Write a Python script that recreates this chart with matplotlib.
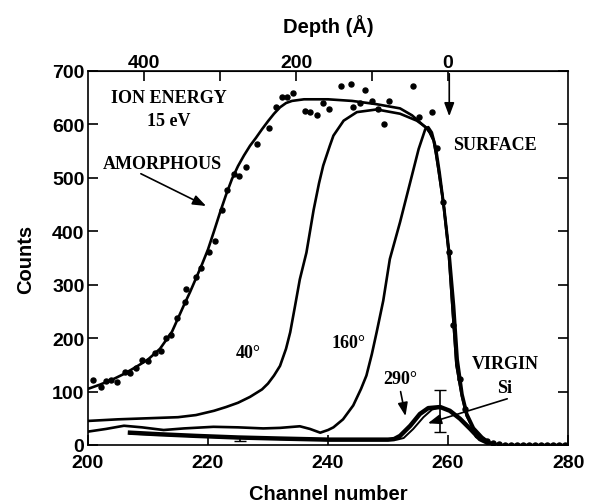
import matplotlib
matplotlib.use("Agg")
import matplotlib.pyplot as plt

# measured data points (amorphous sample, 15 eV)
amor_ch = [200.9, 202.1, 203, 203.8, 204.9, 206.2, 207, 208, 209, 210, 211.2, 212.1, 213, 213.9,
           214.9, 216.2, 216.4, 218, 218.9, 220.1, 221.2, 222.4, 223.2, 224.3, 225.2, 226.3, 228.1,
           230.2, 231.3, 232.3, 233.1, 234.2, 236.2, 237, 238.2, 239.2, 240.2, 242.1, 243.8, 244.1,
           245.3, 246.2, 247.3, 248.4, 249.3, 250.2, 254.2, 255.2, 257.4, 258.1, 259.2, 260.1, 260.9,
           262, 262.8, 264.8, 266.5, 267.5, 268.5, 269.5, 270.5, 271.5, 272.5, 273.5, 274.5, 275.5,
           276.5, 277.5, 278.5, 279.5]
amor_counts = [122, 108, 120, 122, 118, 137, 135, 145, 159, 158, 173, 176, 201, 205,
               237, 267, 292, 314, 332, 361, 382, 440, 477, 507, 504, 521, 563,
               593, 632, 651, 651, 658, 626, 624, 618, 641, 628, 671, 676, 633,
               640, 665, 643, 629, 600, 643, 671, 613, 624, 555, 455, 362, 225,
               124, 67, 19, 8, 3, 1, 0, 0, 0, 0, 0, 0, 0,
               0, 0, 0, 0]

# fitted curve through the amorphous data
fit_ch = [200, 202, 204, 206, 208, 210, 212, 214, 216, 217, 218, 219, 220, 221, 222, 223, 224,
          225, 226, 227, 228, 229, 230, 231, 232, 233, 234, 236, 240, 244, 246, 248, 250, 252,
          254, 255, 256, 256.5, 257, 257.6, 258, 258.4, 259.2, 260.1, 260.6, 261.4, 262.3, 263.1,
          264.2, 265.6, 267, 268, 280]
fit_counts = [105, 113, 122, 133, 146, 160, 180, 212, 262, 286, 312, 338, 366, 400, 435, 468, 498,
              522, 542, 560, 575, 591, 606, 620, 632, 640, 644, 647, 647, 644, 641, 638, 634, 630,
              617, 607, 597, 592, 584, 570, 545, 516, 454, 362, 280, 150, 92, 55,
              30, 14, 3, 0, 0]

# 40 degree anneal
c40_ch = [200, 205, 210, 215, 218, 221, 223, 225, 227, 229, 230, 231, 232, 233, 233.7, 234.5, 235.3,
          236.4, 237.6, 238.5, 239.2, 240.3, 240.9, 242.6, 244.8, 248.1, 252, 254.8, 256.4, 257,
          257.6, 258, 258.4, 259.2, 260.1, 260.6, 261.4, 262.3, 263.1, 264.2, 265.6, 267, 268]
c40_counts = [45, 48, 50, 52, 56, 64, 71, 79, 90, 104, 115, 130, 148, 180, 211, 260, 310,
              360, 440, 490, 523, 560, 579, 607, 623, 628, 620, 607, 594, 584,
              570, 545, 516, 454, 362, 280, 150, 92, 55, 30, 14, 3, 0]

# 160 degree anneal
c160_ch = [200, 203, 206, 209, 212.6, 216, 220.9, 225, 229.2, 232, 235.3, 237, 238.7, 240, 240.9,
           242.5, 244.2, 245.5, 246.4, 247.3, 248.1, 249.2, 250.3, 252, 253.7, 255.1, 256.2, 256.7,
           257.3, 258, 258.6, 259.4, 260.3, 261, 261.6, 262.4, 263.2, 264.3, 265.7, 267, 268]
c160_counts = [25, 30, 36, 33, 28, 31, 34, 33, 31, 32, 35, 30, 23, 28, 33,
               48, 74, 105, 130, 170, 211, 270, 348, 417, 492, 554, 591, 595,
               585, 555, 510, 440, 350, 260, 160, 95, 58, 32, 15, 4, 0]

# 290 degree anneal
c290_ch = [207, 212, 218, 225, 232, 240, 246, 250, 251.5, 252.6, 254.2, 255.9, 257.3, 258.7, 260.3,
           262, 263.7, 265.3, 267, 268]
c290_counts = [21, 19, 16, 13, 11, 9, 9, 9, 10, 13, 30, 52, 66, 71, 65, 49, 30, 11, 2, 0]

# virgin Si
virg_ch = [207, 212, 218, 225, 232, 240, 246, 250, 251, 252, 253.7, 255.3, 256.7, 258.7, 260.3,
           262, 263.7, 265.3, 267, 268]
virg_counts = [23, 20, 17, 14, 12, 10, 10, 10, 11, 17, 36, 58, 69, 71, 64, 49, 30, 11, 2, 0]

# error bars
err_ch = [258.7, 225.3]
err_val = [63, 11]
err_size = [39, 3]

depth_ticks = [400, 300, 200, 100, 0]
depth_labels = ["400", "", "200", "", "0"]

sans = "Liberation Sans"
serif = "Liberation Serif"

fig = plt.figure(figsize=(5.92, 5.02), dpi=100)
ax = fig.add_axes([0.1486, 0.1116, 0.811, 0.745])

lw = 1.9
ax.plot(fit_ch, fit_counts, color="black", lw=lw)
ax.plot(amor_ch, amor_counts, "o", color="black", ms=3.6)
ax.plot(c40_ch, c40_counts, color="black", lw=lw)
ax.plot(c160_ch, c160_counts, color="black", lw=lw)
ax.plot(virg_ch, virg_counts, color="black", lw=3.2)
ax.plot(c290_ch, c290_counts, color="black", lw=1.4)
ax.errorbar(err_ch, err_val, yerr=err_size, fmt="none", ecolor="black", elinewidth=1.2, capsize=4)

ax.set_xlim(200, 280)
ax.set_ylim(0, 700)
ax.set_xticks([200, 220, 240, 260, 280])
ax.set_yticks([0, 100, 200, 300, 400, 500, 600, 700])
ax.tick_params(direction="in", length=7, width=1.2, top=False, right=True, labelsize=14)
ax.tick_params(axis="x", pad=6.5)
ax.tick_params(axis="y", pad=2.5)
for lab in ax.get_xticklabels() + ax.get_yticklabels():
    lab.set_fontfamily(sans)
    lab.set_fontweight("bold")
for s in ax.spines.values():
    s.set_linewidth(1.2)

ax.set_xlabel("Channel number", fontsize=14.5, fontweight="bold", family=sans, labelpad=9)
ax.set_ylabel("Counts", fontsize=14.5, fontweight="bold", family=sans, labelpad=12)

top = ax.secondary_xaxis("top", functions=(lambda c: (260 - c) * 7.9, lambda d: 260 - d / 7.9))
top.set_xticks(depth_ticks)
top.set_xticklabels(depth_labels)
top.tick_params(direction="in", length=7, width=1.2, labelsize=14, pad=0)
for lab in top.get_xticklabels():
    lab.set_fontfamily(sans)
    lab.set_fontweight("bold")
top.set_xlabel("Depth (Å)", fontsize=14.5, fontweight="bold", family=sans, labelpad=16)

tkw = dict(fontsize=13, fontweight="bold", family=serif, ha="center", va="center")
ax.text(213.4, 651, "ION ENERGY", **tkw)
ax.text(213.4, 608, "15 eV", **tkw)
ax.text(212.4, 527, "AMORPHOUS", **tkw)
ax.text(267.8, 562, "SURFACE", **tkw)
ax.text(226.7, 173, "40°", **tkw)
ax.text(243.4, 191, "160°", **tkw)
ax.text(252, 125, "290°", **tkw)
ax.text(269.5, 152, "VIRGIN", **tkw)
ax.text(269.5, 108, "Si", **tkw)

akw = dict(arrowstyle="-|>,head_length=0.8,head_width=0.3", color="black", lw=1.2)
ax.annotate("", xy=(220.1, 445), xytext=(208.4, 510), arrowprops=akw)
ax.annotate("", xy=(260.2, 610), xytext=(260.2, 700), arrowprops=akw)
ax.annotate("", xy=(253, 49), xytext=(252, 105), arrowprops=akw)
ax.annotate("", xy=(256.2, 39), xytext=(270.3, 88), arrowprops=akw)

fig.savefig("out.png", dpi=100)
